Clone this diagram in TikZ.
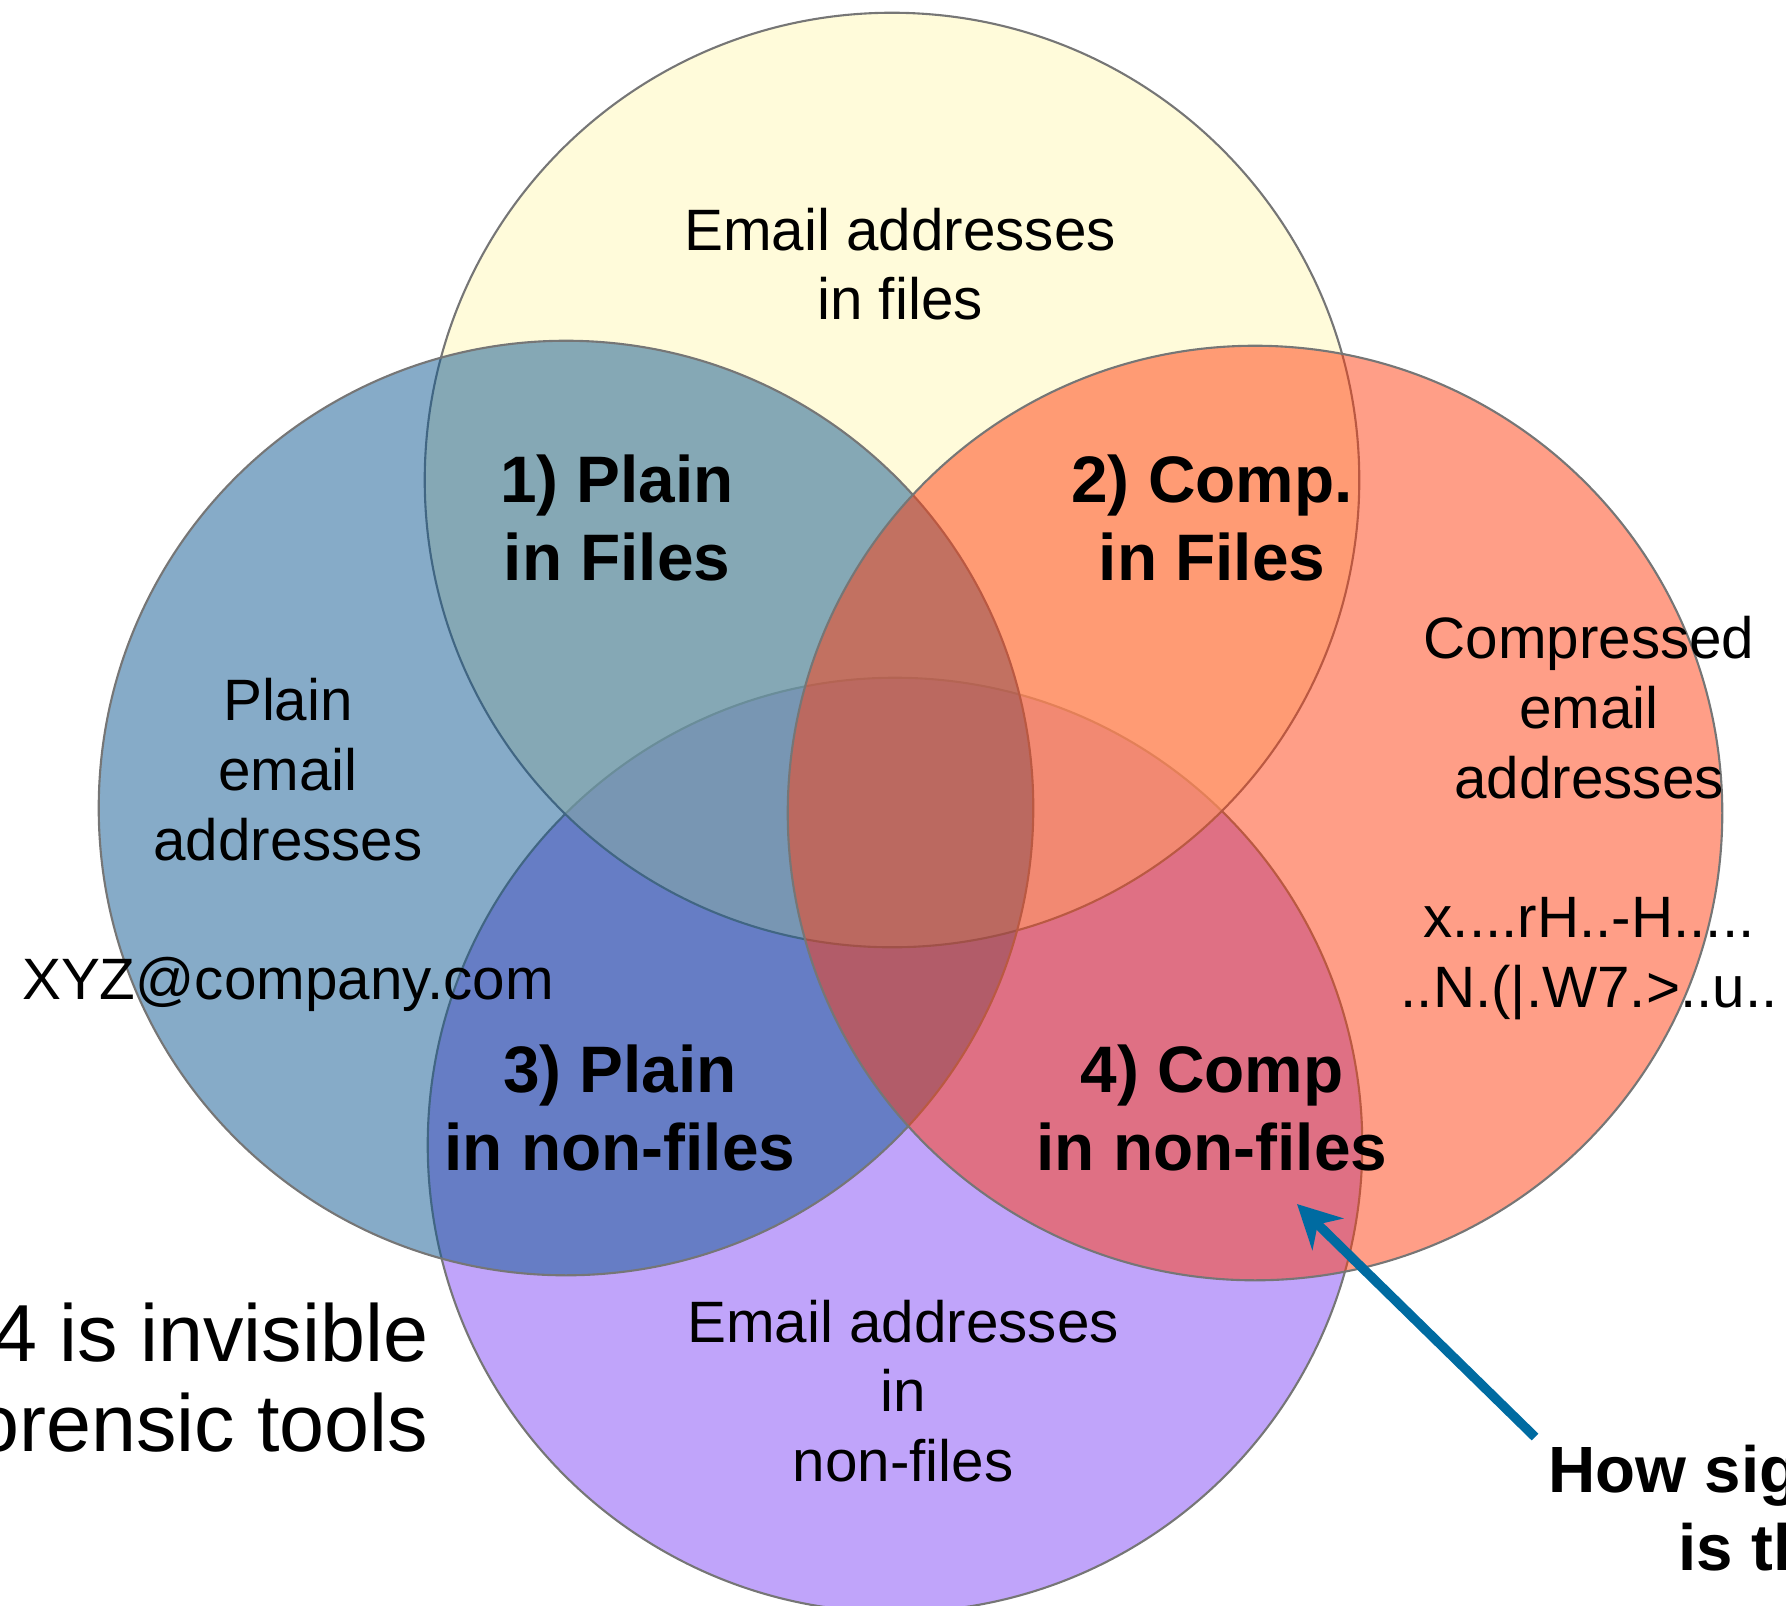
\documentclass[tikz,border=0pt]{standalone}
\usepackage{fontspec}
\setmainfont{Liberation Sans}
\usetikzlibrary{arrows.meta}

% fill colours of the four sets
\definecolor{filesY}{RGB}{255,248,193}
\definecolor{plainB}{RGB}{13,87,145}
\definecolor{compO}{RGB}{255,61,15}
\definecolor{nonfileP}{RGB}{192,164,250}
\definecolor{rim}{RGB}{118,118,118}
\definecolor{pointer}{RGB}{0,107,161}

\begin{document}
\begin{tikzpicture}[x=0.01cm, y=-0.01cm,
  setrim/.style={draw=rim, line width=0.6pt},
  plaintext/.style={font=\fontsize{16.6pt}{19.8pt}\selectfont, align=center, inner sep=0pt},
  regiontext/.style={font=\bfseries\fontsize{18.7pt}{22.3pt}\selectfont, align=center, inner sep=0pt},
  notetext/.style={font=\fontsize{23pt}{25.6pt}\selectfont, align=right, inner sep=0pt},
  asktext/.style={font=\bfseries\fontsize{18.6pt}{22.2pt}\selectfont, inner sep=0pt}]

\useasboundingbox (0,0) rectangle (1786,1605);

% the four sets, bottom one first
\draw[setrim, fill=nonfileP] (895,1145) circle[radius=4.67cm];
\draw[setrim, fill=filesY, fill opacity=0.6] (892,480) circle[radius=4.67cm];
\draw[setrim, fill=plainB, fill opacity=0.5] (566,808) circle[radius=4.67cm];
\draw[setrim, fill=compO, fill opacity=0.5] (1255,813) circle[radius=4.67cm];

% set labels
\node[plaintext] (files) at (900,264) {Email addresses\\in files};
\node[plaintext] (plain) at (288,845) {Plain\\email\\addresses\\[19.8pt]XYZ@company.com};
\node[plaintext] (comp) at (1589,818) {Compressed\\email\\addresses\\[19.8pt]x....rH..-H.....\\..N.(|.W7.>..u..};
\node[plaintext] (nonfiles) at (903,1391) {Email addresses\\in\\non-files};

% region labels
\node[regiontext] (r1) at (617,518) {1) Plain\\in Files};
\node[regiontext] (r2) at (1212,518) {2) Comp.\\in Files};
\node[regiontext] (r3) at (620,1108) {3) Plain\\in non-files};
\node[regiontext] (r4) at (1212,1108) {4) Comp\\in non-files};

% side notes
\node[notetext, anchor=east] (invisible) at (429,1378) {4 is invisible\\orensic tools};
\node[asktext, anchor=base west] (ask1) at (1548,1492) {How sig};
\node[asktext, anchor=base west] (ask2) at (1678,1570) {is th};

% pointer into region 4
\coordinate (qtail) at (1535,1437);
\coordinate (qtip) at (1297,1204);
\draw[pointer, line width=2.7pt, -{Stealth[length=4.3mm, width=4.4mm, inset=1.4mm]}] (qtail) -- (qtip);
\end{tikzpicture}
\end{document}
